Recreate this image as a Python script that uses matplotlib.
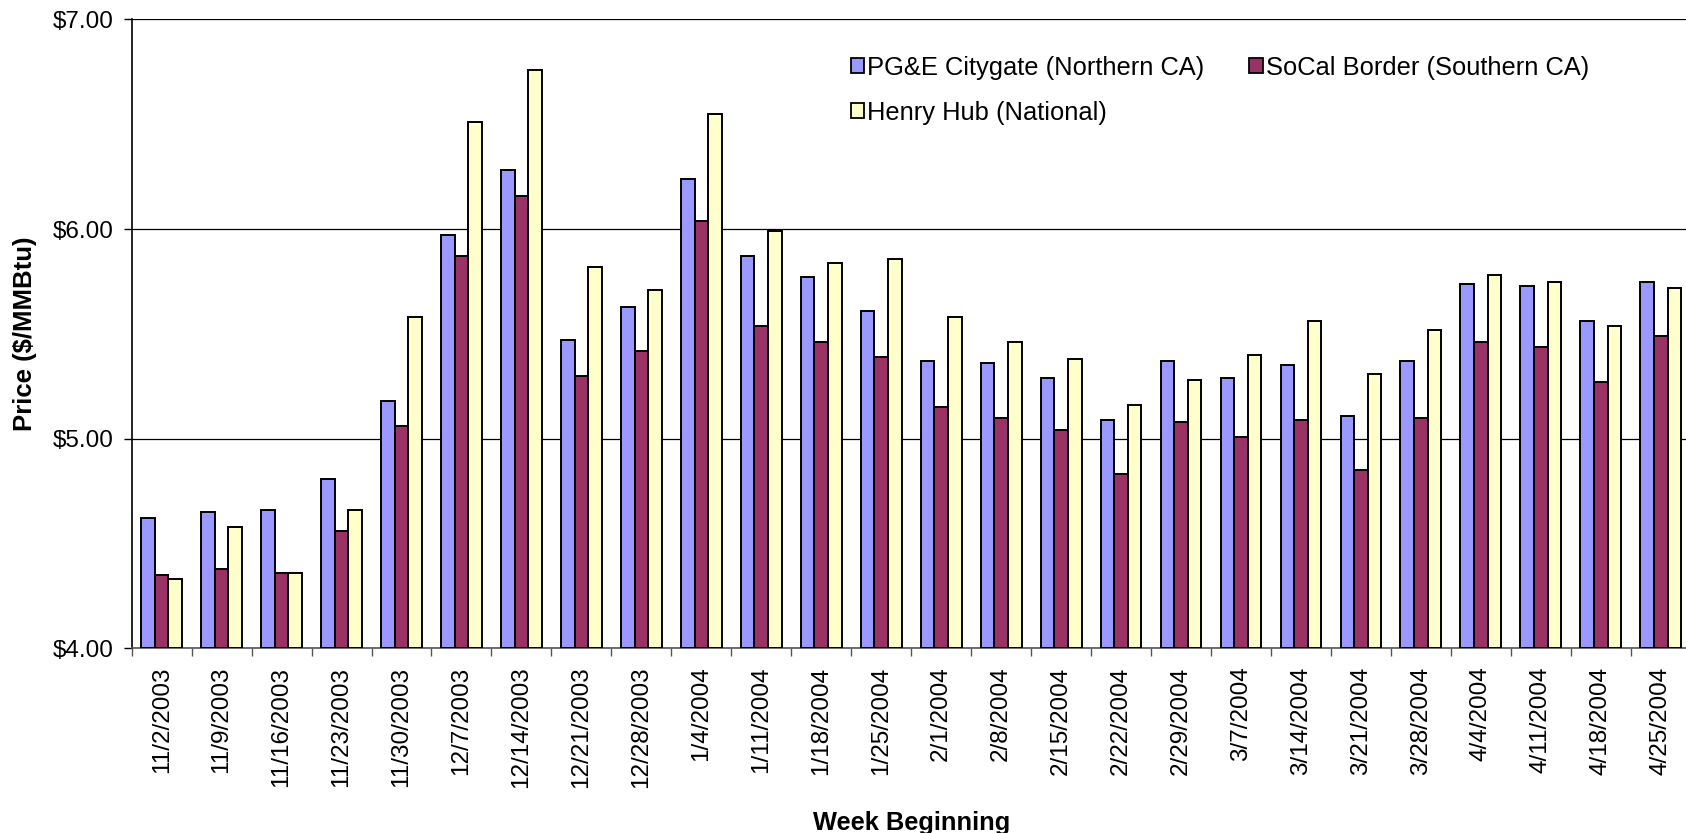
import numpy as np
import matplotlib.pyplot as plt
from matplotlib.patches import Patch

plt.rcParams['font.family'] = ['Liberation Sans', 'DejaVu Sans']

weeks = ['11/2/2003', '11/9/2003', '11/16/2003', '11/23/2003', '11/30/2003',
         '12/7/2003', '12/14/2003', '12/21/2003', '12/28/2003', '1/4/2004',
         '1/11/2004', '1/18/2004', '1/25/2004', '2/1/2004', '2/8/2004',
         '2/15/2004', '2/22/2004', '2/29/2004', '3/7/2004', '3/14/2004',
         '3/21/2004', '3/28/2004', '4/4/2004', '4/11/2004', '4/18/2004',
         '4/25/2004']

pge = [4.62, 4.65, 4.66, 4.81, 5.18, 5.97, 6.28, 5.47, 5.63, 6.24,
       5.87, 5.77, 5.61, 5.37, 5.36, 5.29, 5.09, 5.37, 5.29, 5.35,
       5.11, 5.37, 5.74, 5.73, 5.56, 5.75]
socal = [4.35, 4.38, 4.36, 4.56, 5.06, 5.87, 6.16, 5.30, 5.42, 6.04,
         5.54, 5.46, 5.39, 5.15, 5.10, 5.04, 4.83, 5.08, 5.01, 5.09,
         4.85, 5.10, 5.46, 5.44, 5.27, 5.49]
henry = [4.33, 4.58, 4.36, 4.66, 5.58, 6.51, 6.76, 5.82, 5.71, 6.55,
         5.99, 5.84, 5.86, 5.58, 5.46, 5.38, 5.16, 5.28, 5.40, 5.56,
         5.31, 5.52, 5.78, 5.75, 5.54, 5.72]

names = ['PG&E Citygate (Northern CA)', 'SoCal Border (Southern CA)',
         'Henry Hub (National)']
colors = ['#9999FF', '#993366', '#FFFFCC']

fig = plt.figure(figsize=(16.86, 8.33), dpi=100)
# plot area runs a little past the right edge, as in the original
ax = fig.add_axes([0.0781, 0.2215, 0.9247, 0.7551])

x = np.arange(len(weeks))
w = 0.227
for i, (vals, c) in enumerate(zip([pge, socal, henry], colors)):
    ax.bar(x + (i - 1) * w, np.array(vals) - 4, bottom=4, width=w,
           color=c, edgecolor='black', linewidth=1.4, zorder=3)

ax.set_ylim(4, 7)
ax.set_xlim(-0.5, len(weeks) - 0.5)
ax.set_yticks([4, 5, 6, 7])
ax.set_yticklabels(['$%.2f' % v for v in [4, 5, 6, 7]], fontsize=17.5)
ax.yaxis.grid(True, color='black', linewidth=0.9, zorder=0)
ax.set_axisbelow(True)

ax.set_xticks(np.arange(len(weeks) + 1) - 0.5)
ax.set_xticklabels([])
ax.set_xticks(x, minor=True)
ax.set_xticklabels(weeks, minor=True, rotation=90, fontsize=17.5)
ax.tick_params(axis='x', which='minor', length=0, pad=13)
ax.tick_params(axis='x', which='major', length=6, width=1, color='#555555',
               direction='out')
ax.tick_params(axis='y', length=6, width=1, pad=7, direction='out')

for s in ['top', 'right']:
    ax.spines[s].set_visible(False)
ax.spines['left'].set_linewidth(1.2)
ax.spines['bottom'].set_color('#555555')
ax.spines['bottom'].set_linewidth(1.2)

ax.set_ylabel('Price ($/MMBtu)', fontsize=18.5, fontweight='bold', labelpad=11)
ax.set_xlabel('Week Beginning', fontsize=18.3, fontweight='bold', labelpad=16)

handles = [Patch(facecolor=c, edgecolor='black', linewidth=1.3) for c in colors]
order = [0, 2, 1]
ax.legend([handles[i] for i in order], [names[i] for i in order],
          ncol=2, frameon=False, fontsize=18.4, loc='upper left',
          bbox_to_anchor=(851 / 1686, 1 - 56 / 833), bbox_transform=fig.transFigure,
          handlelength=0.52, handleheight=0.52, handletextpad=0.12,
          columnspacing=1.75, labelspacing=0.82, borderpad=0, borderaxespad=0)

fig.savefig('out.png', dpi=100)
